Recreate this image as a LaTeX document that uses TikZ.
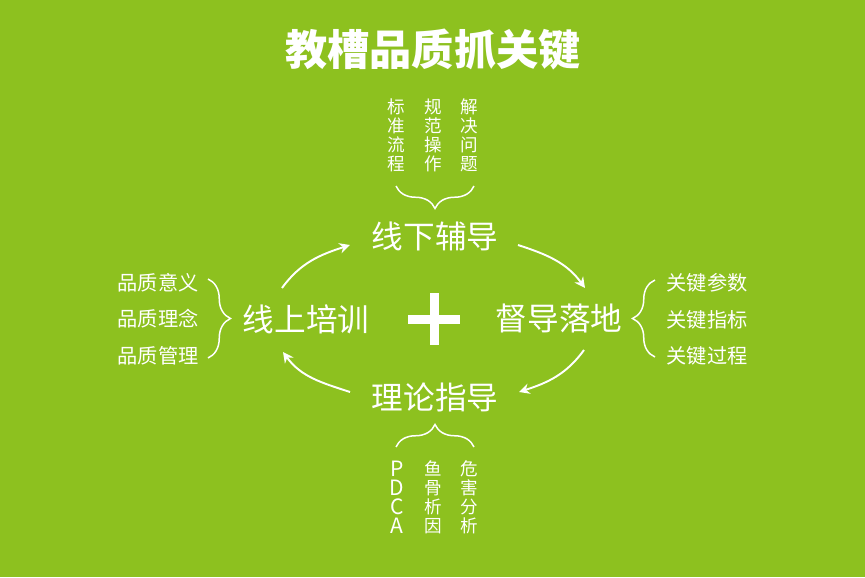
\documentclass[tikz,border=0pt]{standalone}
\usepackage{fontspec}
\setmainfont{Noto Sans CJK SC}
\usetikzlibrary{
	arrows.meta,
	decorations.pathreplacing,
}
\definecolor{LeafGreen}{HTML}{8DC11F}

\begin{document}
\begin{tikzpicture} [
            every node/.style={align=center,text=white,inner sep=0pt},
            hub/.style={font=\fontsize{18}{22}\selectfont},
            item/.style={font=\fontsize{11.5}{14}\selectfont},
            col/.style={font=\fontsize{10}{10.8}\selectfont},
            flow/.style={draw=white,line width=1.1pt,-{Stealth[length=6pt,width=6pt]}},
            brace/.style={draw=white,line width=0.85pt,decorate,decoration={brace,amplitude=0.45cm}},
            bar/.style={fill=white,minimum width=1.04cm,minimum height=0.18cm}
        ]
        \fill[LeafGreen] (0,0) rectangle (17.3,11.54);
        \useasboundingbox (0,0) rectangle (17.3,11.54);

        \node at (8.66,10.54) [font=\fontsize{24}{28}\selectfont\bfseries] (title) {教槽品质抓关键};

        \node at (8.70,6.82) [hub] (offline) {线下辅导};
        \node at (6.12,5.16) [hub] (online) {线上培训};
        \node at (11.18,5.18) [hub] (supervise) {督导落地};
        \node at (8.70,3.60) [hub] (theory) {理论指导};

        \node at (8.68,5.16) [bar] (plusx) {};
        \node at (8.68,5.16) [bar,rotate=90] (plusy) {};

        \node at (7.92,8.84) [col] (standard) {标\\准\\流\\程};
        \node at (8.66,8.84) [col] (operate) {规\\范\\操\\作};
        \node at (9.38,8.84) [col] (solve) {解\\决\\问\\题};

        \node at (7.94,1.59) [col,font=\fontsize{12}{10.8}\selectfont] (pdca) {P\\D\\C\\A};
        \node at (8.66,1.59) [col] (fishbone) {鱼\\骨\\析\\因};
        \node at (9.38,1.59) [col] (hazard) {危\\害\\分\\析};

        \node at (3.16,5.88) [item] (meaning) {品质意义};
        \node at (3.16,5.16) [item] (concept) {品质理念};
        \node at (3.16,4.42) [item] (manage) {品质管理};

        \node at (14.14,5.88) [item] (param) {关键参数};
        \node at (14.14,5.14) [item] (index) {关键指标};
        \node at (14.14,4.42) [item] (process) {关键过程};

        \path[flow] ([shift={(-0.48,0.62)}]online.center) to[out=54,in=198] ([shift={(-1.70,-0.18)}]offline.center);
        \path[flow] ([shift={(1.66,-0.18)}]offline.center) to[out=-18,in=126] ([shift={(0.52,0.60)}]supervise.center);
        \path[flow] ([shift={(0.50,-0.64)}]supervise.center) to[out=-126,in=18] ([shift={(1.68,0.10)}]theory.center);
        \path[flow] ([shift={(-1.70,0.10)}]theory.center) to[out=162,in=-54] ([shift={(-0.46,-0.66)}]online.center);

        \draw[brace] ([shift={(0.78,1.0)}]offline.center) -- ([shift={(-0.78,1.0)}]offline.center);
        \draw[brace] ([shift={(-0.78,-1.0)}]theory.center) -- ([shift={(0.78,-1.0)}]theory.center);
        \draw[brace] ([shift={(-1.96,0.80)}]online.center) -- ([shift={(-1.96,-0.78)}]online.center);
        \draw[brace] ([shift={(1.92,-0.78)}]supervise.center) -- ([shift={(1.92,0.76)}]supervise.center);
    \end{tikzpicture}
\end{document}
